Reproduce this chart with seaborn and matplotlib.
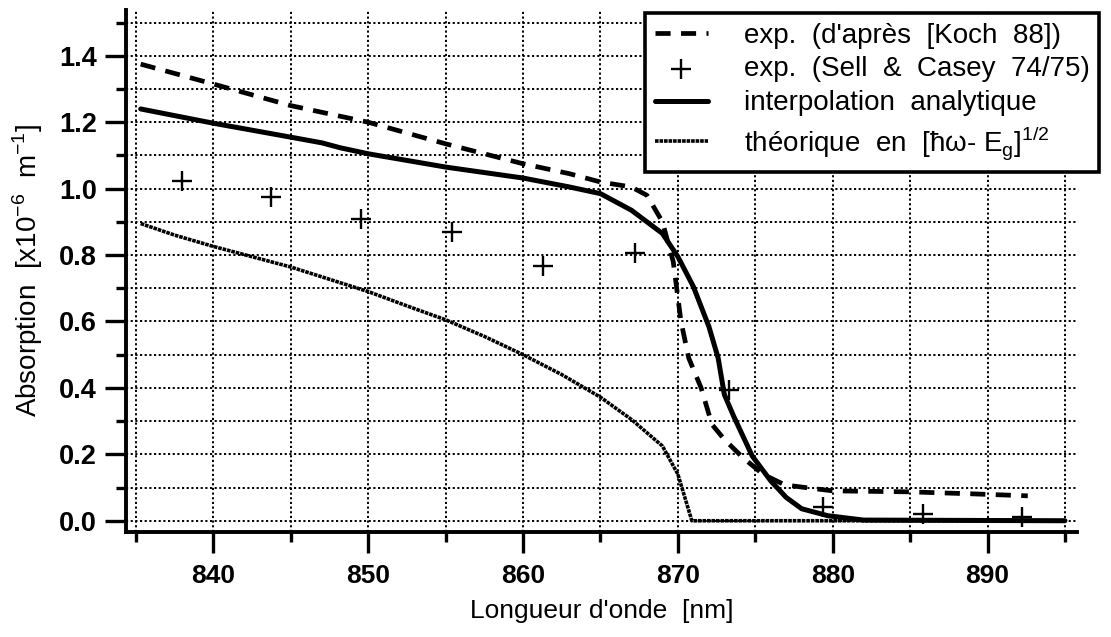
import matplotlib
matplotlib.use("Agg")
import matplotlib.pyplot as plt
from matplotlib.ticker import MultipleLocator, FixedLocator
import seaborn as sns
import pandas as pd

# ---- data ----
koch_wl = [835.3, 840, 845, 850, 855, 860, 863, 865, 867, 868, 869, 869.7, 870.2,
           870.7, 871.5, 872.2, 873, 874.2, 875.5, 876.9, 878.4, 880, 885, 889, 892.6]
koch_abs = [1.375, 1.315, 1.25, 1.20, 1.135, 1.075, 1.045, 1.02, 1.005, 0.98, 0.90,
            0.78, 0.60, 0.49, 0.40, 0.29, 0.245, 0.19, 0.14, 0.108, 0.099, 0.09,
            0.087, 0.081, 0.075]

sell_wl = [838.0, 843.7, 849.5, 855.4, 861.3, 867.2, 873.3, 879.4, 885.8, 892.2]
sell_abs = [1.024, 0.974, 0.91, 0.868, 0.766, 0.805, 0.395, 0.042, 0.021, 0.012]

interp_wl = [835.3, 840, 845, 847, 848.2, 850, 855, 860, 863, 865, 867, 869, 870,
             871, 872, 872.6, 873, 873.6, 874.8, 876, 877, 878, 879.7, 882, 895]
interp_abs = [1.24, 1.197, 1.155, 1.138, 1.123, 1.105, 1.065, 1.032, 1.005, 0.985,
              0.935, 0.865, 0.795, 0.705, 0.585, 0.49, 0.38, 0.315, 0.195, 0.12,
              0.07, 0.036, 0.015, 0.002, 0.0]

theo_wl = [835.3, 837.5, 840, 842.5, 845, 847.5, 850, 852.5, 855, 857.5, 860,
           862.5, 865, 867, 869, 870, 870.9, 895]
theo_abs = [0.895, 0.86, 0.826, 0.795, 0.764, 0.727, 0.69, 0.647, 0.605, 0.555,
            0.50, 0.44, 0.372, 0.305, 0.225, 0.14, 0.0, 0.0]

x_major = [840, 850, 860, 870, 880, 890]
x_labels = ["840", "850", "860", "870", "880", "890"]
y_major = [0.0, 0.2, 0.4, 0.6, 0.8, 1.0, 1.2, 1.4]
y_labels = ["0.0", "0.2", "0.4", "0.6", "0.8", "1.0", "1.2", "1.4"]

lab_koch = "exp.  (d'après  [Koch  88])"
lab_sell = "exp.  (Sell  &  Casey  74/75)"
lab_interp = "interpolation  analytique"
lab_theo = r"théorique  en  [ħω- E$_\mathregular{g}$]$^\mathregular{1/2}$"

# ---- style ----
sns.set_theme(style="white")
plt.rcParams["font.family"] = ["Liberation Sans", "DejaVu Sans"]
plt.rcParams["mathtext.fontset"] = "custom"
plt.rcParams["mathtext.rm"] = "Liberation Sans"
plt.rcParams["text.color"] = "black"
plt.rcParams["axes.labelcolor"] = "black"
plt.rcParams["xtick.color"] = "black"
plt.rcParams["ytick.color"] = "black"
plt.rcParams["xtick.labelcolor"] = "black"
plt.rcParams["ytick.labelcolor"] = "black"

fig = plt.figure(figsize=(11.11, 6.37), dpi=100)
fig.patch.set_facecolor("white")
ax = fig.add_axes([0.1134, 0.1653, 0.856, 0.819])
ax.set_facecolor("white")

df_koch = pd.DataFrame({"wl": koch_wl, "a": koch_abs})
df_sell = pd.DataFrame({"wl": sell_wl, "a": sell_abs})
df_interp = pd.DataFrame({"wl": interp_wl, "a": interp_abs})
df_theo = pd.DataFrame({"wl": theo_wl, "a": theo_abs})

sns.lineplot(data=df_koch, x="wl", y="a", ax=ax, color="black", lw=3.4,
             linestyle=(0, (3.2, 2.2)), sort=False, estimator=None, label=lab_koch)
sns.scatterplot(data=df_sell, x="wl", y="a", ax=ax, color="black", marker="+",
                s=200, linewidth=1.7, label=lab_sell, zorder=5)
sns.lineplot(data=df_interp, x="wl", y="a", ax=ax, color="black", lw=3.6,
             sort=False, estimator=None, label=lab_interp)
sns.lineplot(data=df_theo, x="wl", y="a", ax=ax, color="black", lw=2.6,
             linestyle=(0, (1.0, 0.25)), sort=False, estimator=None, label=lab_theo)

ax.set_xlim(834.35, 895.78)
ax.set_ylim(-0.033, 1.538)

ax.xaxis.set_major_locator(FixedLocator(x_major))
ax.set_xticklabels(x_labels)
ax.xaxis.set_minor_locator(MultipleLocator(5))
ax.yaxis.set_major_locator(FixedLocator(y_major))
ax.set_yticklabels(y_labels)
ax.yaxis.set_minor_locator(MultipleLocator(0.1))

ax.grid(which="both", color="black", linestyle=(0, (1.1, 1.3)), linewidth=1.4)
ax.set_axisbelow(True)

for s in ["top", "right"]:
    ax.spines[s].set_visible(False)
for s in ["left", "bottom"]:
    ax.spines[s].set_color("black")
    ax.spines[s].set_linewidth(2.8)

ax.tick_params(which="major", direction="out", length=15, width=2.4, color="black")
ax.tick_params(which="minor", direction="out", length=7, width=2.4, color="black")
ax.tick_params(axis="x", which="major", pad=8)
ax.tick_params(axis="y", which="major", pad=6)
ax.tick_params(which="both", bottom=True, left=True, labelcolor="black")

for t in ax.get_yticklabels():
    t.set_fontsize(19.5)
    t.set_fontweight("bold")
for t in ax.get_xticklabels():
    t.set_fontsize(19)
    t.set_fontweight("bold")

ax.set_xlabel("Longueur d'onde  [nm]", fontsize=19, labelpad=8, color="black")
ax.set_ylabel(r"Absorption  [x10$^\mathregular{-6}$  m$^\mathregular{-1}$]",
              fontsize=20, labelpad=10, color="black")

handles, labels = ax.get_legend_handles_labels()
leg = ax.legend(handles, labels, loc="upper left",
                bbox_to_anchor=(645 / 1111, 1 - 13 / 637), bbox_transform=fig.transFigure,
                fontsize=20, frameon=True, fancybox=False, shadow=False, framealpha=1,
                edgecolor="black", borderpad=0.35, labelspacing=0.28,
                handlelength=1.9, handletextpad=1.3, borderaxespad=0)
leg.get_frame().set_linewidth(2.6)
leg.set_zorder(10)
for t in leg.get_texts():
    t.set_color("black")

fig.savefig("out.png", dpi=100, facecolor="white")
